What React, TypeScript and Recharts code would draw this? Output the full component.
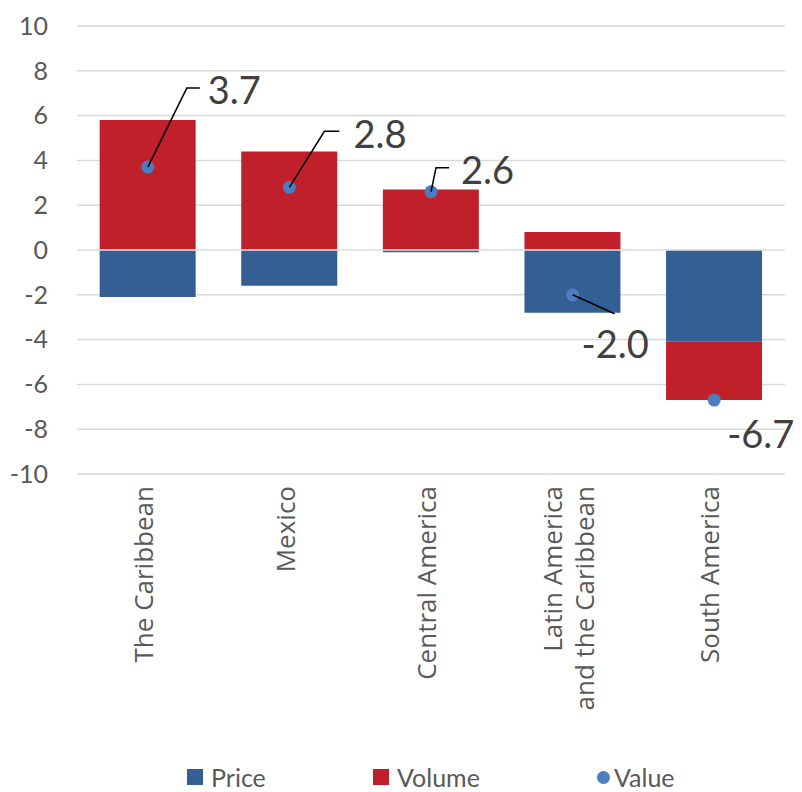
import {
  ComposedChart,
  Bar,
  Line,
  XAxis,
  YAxis,
  CartesianGrid,
  Legend,
  LabelList,
  ReferenceLine,
} from 'recharts'

const regions = [
  'The Caribbean',
  'Mexico',
  'Central America',
  'Latin America\nand the Caribbean',
  'South America',
]
const priceValues = [-2.1, -1.6, -0.1, -2.8, -4.1]
const volumeValues = [5.8, 4.4, 2.7, 0.8, -2.6]
const totalValues = [3.7, 2.8, 2.6, -2.0, -6.7]
const yTicks = [-10, -8, -6, -4, -2, 0, 2, 4, 6, 8, 10]

// leader line + label placement relative to each dot (px)
const labelLayout = [
  { bend: [39, -79], end: [52, -79], text: [60, -77] },
  { bend: [35, -56], end: [50, -56], text: [64, -53] },
  { bend: [5, -24], end: [18, -24], text: [30, -21] },
  { bend: null, end: [42, 19], text: [9, 50] },
  { bend: null, end: null, text: [13, 34] },
]

const BLUE = '#345F94'
const RED = '#C0202A'
const DOT = '#4A7EBF'
const GREY = '#595959'

const data = regions.map((name, i) => ({
  name,
  Price: priceValues[i],
  Volume: volumeValues[i],
  Value: totalValues[i],
}))

const RegionTick = ({ x, y, payload }: any) => {
  const lines = String(payload.value).split('\n')
  const start = -((lines.length - 1) * 1.25) / 2 + 0.2
  return (
    <g transform={`translate(${x},${y})`}>
      <text
        transform="rotate(-90)"
        textAnchor="end"
        fill={GREY}
        fontSize={26}
        fontFamily="Open Sans"
      >
        {lines.map((l, i) => (
          <tspan key={i} x={0} y={0} dy={`${start + i * 1.25}em`}>
            {l}
          </tspan>
        ))}
      </text>
    </g>
  )
}

const ValueLabel = ({ x, y, value, index }: any) => {
  const lay = labelLayout[index]
  if (!lay) return null
  let path = ''
  if (lay.end) {
    path = `M${x},${y}`
    if (lay.bend) path += ` L${x + lay.bend[0]},${y + lay.bend[1]}`
    path += ` L${x + lay.end[0]},${y + lay.end[1]}`
  }
  return (
    <g>
      {path && <path d={path} stroke="#000" strokeWidth={1.5} fill="none" />}
      <text
        x={x + lay.text[0]}
        y={y + lay.text[1]}
        dy="0.36em"
        fill="#404040"
        fontSize={38}
        fontFamily="Lato, sans-serif"
      >
        {Number(value).toFixed(1)}
      </text>
    </g>
  )
}

const renderLegend = () => {
  const items = [
    { label: 'Price', color: BLUE, left: 187, round: false },
    { label: 'Volume', color: RED, left: 373, round: false },
    { label: 'Value', color: DOT, left: 597, round: true },
  ]
  return (
    <div style={{ position: 'relative', height: 30, width: 802 }}>
      {items.map((it) => (
        <div
          key={it.label}
          style={{
            position: 'absolute',
            left: it.left,
            top: 0,
            height: 30,
            lineHeight: '30px',
            display: 'flex',
            alignItems: 'center',
            color: GREY,
            fontSize: 25,
            fontFamily: 'Lato, sans-serif',
          }}
        >
          <span
            style={{
              display: 'inline-block',
              width: it.round ? 13 : 16,
              height: it.round ? 13 : 16,
              borderRadius: it.round ? '50%' : 0,
              backgroundColor: it.color,
              marginRight: it.round ? 4 : 8,
            }}
          />
          {it.label}
        </div>
      ))}
    </div>
  )
}

const App = () => {
  return (
    <div style={{ position: 'absolute', left: 0, top: 0, background: '#fff' }}>
      <ComposedChart
        width={802}
        height={792}
        data={data}
        stackOffset="sign"
        barCategoryGap="16%"
        margin={{ top: 26, right: 17, bottom: 0, left: 0 }}
      >
        <CartesianGrid vertical={false} stroke="#D9D9D9" strokeWidth={1.5} />
        <XAxis
          dataKey="name"
          axisLine={false}
          tickLine={false}
          tickSize={6}
          tickMargin={6}
          height={288}
          interval={0}
          tick={<RegionTick />}
        />
        <YAxis
          domain={[-10, 10]}
          ticks={yTicks}
          width={77}
          axisLine={false}
          tickLine={false}
          tickSize={6}
          tickMargin={23}
          tick={{ fill: GREY, fontSize: 25, fontFamily: 'Lato, sans-serif' }}
        />
        <Legend verticalAlign="bottom" height={30} content={renderLegend} />
        <Bar dataKey="Price" stackId="a" fill={BLUE} isAnimationActive={false} />
        <Bar dataKey="Volume" stackId="a" fill={RED} isAnimationActive={false} />
        <ReferenceLine y={0} stroke="#E4E4E4" strokeWidth={1.5} />
        <Line
          dataKey="Value"
          stroke="none"
          legendType="circle"
          dot={{ r: 6.5, fill: DOT, stroke: 'none' }}
          activeDot={false}
          isAnimationActive={false}
        >
          <LabelList dataKey="Value" content={<ValueLabel />} />
        </Line>
      </ComposedChart>
    </div>
  )
}

export default App
